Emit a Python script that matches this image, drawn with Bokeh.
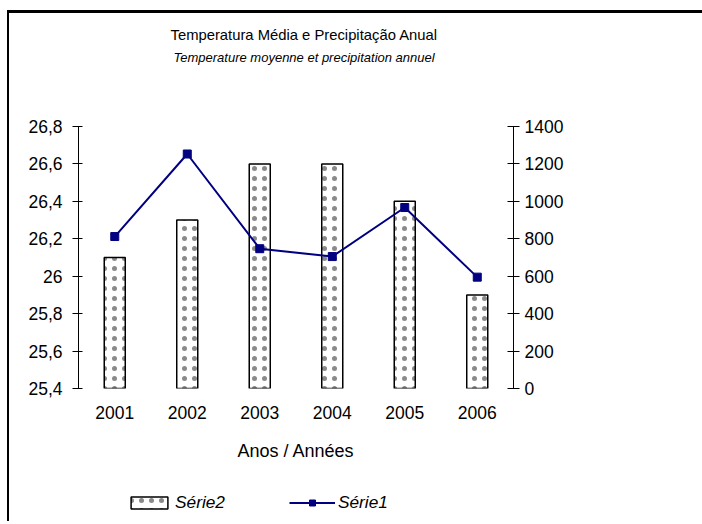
from bokeh.plotting import figure
from bokeh.layouts import column
from bokeh.models import (FactorRange, Range1d, LinearAxis, FixedTicker, CustomJSTickFormatter,
                          Title, Legend, LegendItem, ColumnDataSource)
from bokeh.embed import file_html
from bokeh.resources import INLINE

# ---- data ----
years = ["2001", "2002", "2003", "2004", "2005", "2006"]
temperature = [26.1, 26.3, 26.6, 26.6, 26.4, 25.9]      # Série2 (bars, left axis)
precipitation = [812, 1253, 747, 705, 967, 595]         # Série1 (line, right axis)
temp_ticks = [25.4, 25.6, 25.8, 26.0, 26.2, 26.4, 26.6, 26.8]
precip_ticks = [0, 200, 400, 600, 800, 1000, 1200, 1400]
series_names = ["Série2", "Série1"]

title_text = "Temperatura Média e Precipitação Anual"
subtitle_text = "Temperature moyenne et precipitation annuel"
xlabel_text = "Anos / Années"

FONT = "Liberation Sans"
NAVY = "#000080"
BAR_STYLE = dict(fill_color="white", line_color="black", line_width=1.5,
                 hatch_pattern="dot", hatch_color="#8a8a8a", hatch_scale=10)

src = ColumnDataSource(dict(year=years, temp=temperature, prec=precipitation))
x_range = FactorRange(factors=years, range_padding=0)
y_range = Range1d(temp_ticks[0], temp_ticks[-1])

p = figure(width=693, height=470, x_range=x_range, y_range=y_range,
           output_backend="svg", toolbar_location=None, title=None,
           min_border_left=69, min_border_right=189,
           min_border_top=113, min_border_bottom=95)
p.extra_y_ranges = {"prec": Range1d(precip_ticks[0], precip_ticks[-1])}

p.outline_line_color = None
p.xgrid.grid_line_color = None
p.ygrid.grid_line_color = None
p.background_fill_color = "white"
p.border_fill_color = "white"

p.vbar(x="year", top="temp", bottom=temp_ticks[0], width=0.29, source=src, **BAR_STYLE)
p.line(x="year", y="prec", source=src, y_range_name="prec", line_color=NAVY, line_width=2)
p.scatter(x="year", y="prec", source=src, y_range_name="prec",
          marker="square", size=8, fill_color=NAVY, line_color=NAVY)

fmt = CustomJSTickFormatter(code="return (Math.round(tick*10)/10).toString().replace('.', ',');")

# left axis
ya = p.yaxis[0]
ya.ticker = FixedTicker(ticks=temp_ticks)
ya.formatter = fmt
ya.minor_tick_line_color = None
ya.major_tick_in = 4
ya.major_tick_out = 6
ya.major_label_standoff = 10
ya.axis_line_color = "black"
ya.major_tick_line_color = "black"
ya.major_label_text_font = FONT
ya.major_label_text_font_size = "17.5px"
ya.major_label_text_color = "black"

# right axis
ra = LinearAxis(y_range_name="prec", ticker=FixedTicker(ticks=precip_ticks))
ra.minor_tick_line_color = None
ra.major_tick_in = 6
ra.major_tick_out = 6
ra.major_label_standoff = 5
ra.axis_line_color = "black"
ra.major_tick_line_color = "black"
ra.major_label_text_font = FONT
ra.major_label_text_font_size = "17.5px"
ra.major_label_text_color = "black"
p.add_layout(ra, "right")

# x axis
xa = p.xaxis[0]
xa.axis_line_color = None
xa.major_tick_line_color = None
xa.minor_tick_line_color = None
xa.major_tick_out = 0
xa.major_tick_in = 0
xa.major_label_standoff = 17
xa.major_label_text_font = FONT
xa.major_label_text_font_size = "17.5px"
xa.major_label_text_color = "black"
xa.axis_label = xlabel_text
xa.axis_label_standoff = 19
xa.axis_label_text_font = FONT
xa.axis_label_text_font_size = "18px"
xa.axis_label_text_font_style = "normal"
xa.axis_label_text_color = "black"

# titles (stacked upward from the frame: spacer, subtitle, title)
p.add_layout(Title(text=" ", text_font_size="1px", standoff=59), "above")
p.add_layout(Title(text=subtitle_text, align="left", offset=95, standoff=0,
                   text_font=FONT, text_font_size="13px", text_font_style="italic",
                   text_color="black"), "above")
p.add_layout(Title(text=title_text, align="left", offset=92, standoff=9,
                   text_font=FONT, text_font_size="14.8px", text_font_style="normal",
                   text_color="black"), "above")

# ---- legend strip: same series, renderers hidden, only the legend shows ----
q = figure(width=693, height=38, x_range=x_range, y_range=y_range,
           output_backend="svg", toolbar_location=None, title=None,
           x_axis_location=None, y_axis_location=None, min_border=0)
q.outline_line_color = None
q.xgrid.grid_line_color = None
q.ygrid.grid_line_color = None
q.border_fill_color = "white"
lg_bar = q.vbar(x="year", top="temp", bottom=temp_ticks[0], width=0.29, source=src,
                visible=False, **BAR_STYLE)
lg_line = q.line(x="year", y="temp", source=src, line_color=NAVY, line_width=2, visible=False)
lg_mark = q.scatter(x="year", y="temp", source=src, marker="square", size=8,
                    fill_color=NAVY, line_color=NAVY, visible=False)

legend = Legend(items=[LegendItem(label=series_names[0], renderers=[lg_bar]),
                       LegendItem(label=series_names[1], renderers=[lg_line, lg_mark])],
                location=(48, 8), orientation="horizontal",
                glyph_width=46, glyph_height=15, label_standoff=3, spacing=64,
                padding=0, margin=0, border_line_color=None, background_fill_alpha=0,
                inactive_fill_alpha=0,
                label_text_font=FONT, label_text_font_style="italic",
                label_text_font_size="17.3px", label_height=15, label_text_color="black")
q.add_layout(legend, "center")

layout = column(p, q, spacing=0)
layout.styles = {"border-left": "2px solid black", "border-top": "3px solid black"}
layout.margin = (10, 0, 0, 7)

open("out.html", "w").write(file_html(layout, INLINE))
